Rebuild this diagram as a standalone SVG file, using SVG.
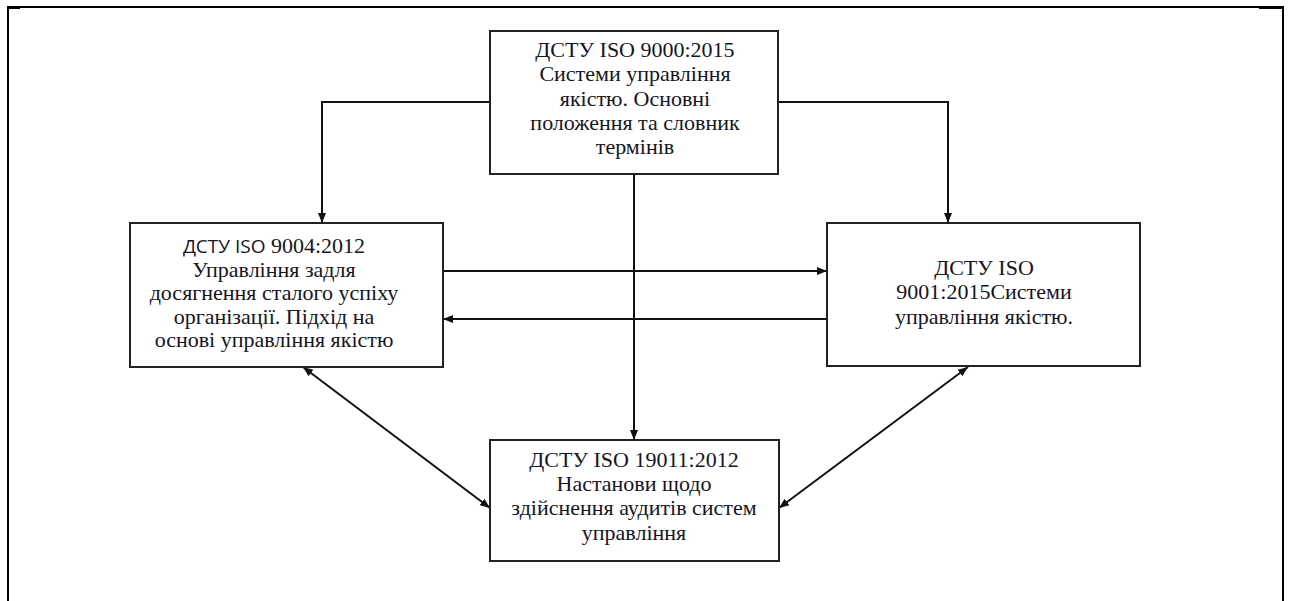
<svg xmlns="http://www.w3.org/2000/svg" width="1289" height="601" viewBox="0 0 1289 601">
  <defs>
    <marker id="arr" viewBox="0 0 10 10" refX="10" refY="5" markerWidth="10" markerHeight="10" markerUnits="userSpaceOnUse" orient="auto-start-reverse">
      <path d="M0,1 L10,5 L0,9 Z" fill="#111"/>
    </marker>
  </defs>
  <style>
    .box { fill: #fff; stroke: #222; stroke-width: 2; }
    .con { fill: none; stroke: #111; stroke-width: 2; }
    .frame { fill: none; stroke: #000; stroke-width: 2; }
  </style>

  <rect width="1289" height="601" fill="#fff"/>

  <!-- page frame -->
  <g id="frame">
    <path class="frame" d="M8,601 V7 H1283 V601"/>
    <path d="M7,7.5 H20 M1259,7.5 H1284" stroke="#000" stroke-width="3"/>
  </g>

  <!-- connectors -->
  <g id="connectors">
    <path class="con" d="M490,102 H322 V223" marker-end="url(#arr)"/>
    <path class="con" d="M778,102 H948 V223" marker-end="url(#arr)"/>
    <path class="con" d="M634,174 V440" marker-end="url(#arr)"/>
    <path class="con" d="M443,271 H827" marker-end="url(#arr)"/>
    <path class="con" d="M827,319 H443" marker-end="url(#arr)"/>
    <path class="con" d="M303,367 L490,508" marker-start="url(#arr)" marker-end="url(#arr)"/>
    <path class="con" d="M968,367 L779,508" marker-start="url(#arr)" marker-end="url(#arr)"/>
  </g>

  <g id="iso9000" font-family="Liberation Serif" font-size="22" fill="#15151f" text-anchor="middle">
    <rect class="box" x="490" y="31" width="288" height="143"/>
    <text x="635" y="57">ДСТУ ISO 9000:2015</text>
    <text x="635" y="81">Системи управління</text>
    <text x="635" y="106">якістю. Основні</text>
    <text x="635" y="130">положення та словник</text>
    <text x="635" y="154">термінів</text>
  </g>

  <g id="iso9004" font-family="Liberation Serif" font-size="22" fill="#15151f" text-anchor="middle">
    <rect class="box" x="130" y="223" width="313" height="144"/>
    <text x="274" y="253"><tspan font-family="Open Sans" font-size="19">ДСТУ ISO</tspan> 9004:2012</text>
    <text x="274" y="277">Управління задля</text>
    <text x="274" y="300">досягнення сталого успіху</text>
    <text x="274" y="324">організації. Підхід на</text>
    <text x="274" y="347">основі управління якістю</text>
  </g>

  <g id="iso9001" font-family="Liberation Serif" font-size="22" fill="#15151f" text-anchor="middle">
    <rect class="box" x="827" y="223" width="313" height="143"/>
    <text x="984" y="275">ДСТУ ISO</text>
    <text x="984" y="299">9001:2015Системи</text>
    <text x="984" y="324">управління якістю.</text>
  </g>

  <g id="iso19011" font-family="Liberation Serif" font-size="22" fill="#15151f" text-anchor="middle">
    <rect class="box" x="490" y="440" width="289" height="121"/>
    <text x="634" y="467">ДСТУ ISO 19011:2012</text>
    <text x="634" y="491">Настанови щодо</text>
    <text x="634" y="515">здійснення аудитів систем</text>
    <text x="634" y="540">управління</text>
  </g>
</svg>
